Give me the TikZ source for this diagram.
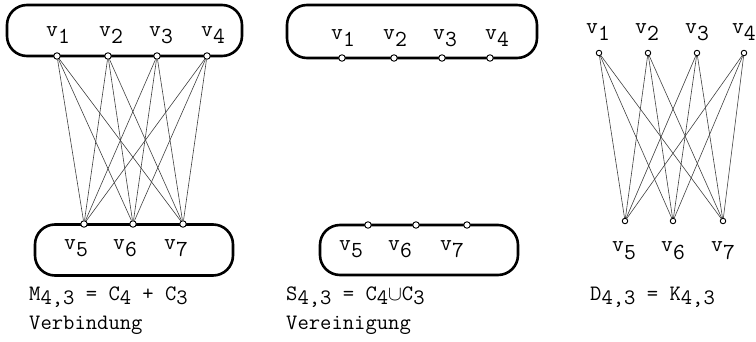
\documentclass[tikz,border=0pt]{standalone}
\newcommand{\lw}[1]{\raisebox{-7pt}{#1}}
\newcommand{\lc}[1]{\raisebox{-4.5pt}{#1}}
\newcommand{\vl}[1]{v\lw{#1}}
\begin{document}
\begin{tikzpicture}[x=1pt,y=-1pt,
  box/.style={draw, line width=2.6pt, rounded corners=20pt, inner sep=0pt},
  vtx/.style={circle, draw, fill=white, inner sep=0pt, minimum size=6.5pt, line width=0.9pt},
  lbl/.style={anchor=base, font=\ttfamily\fontsize{23}{24}\selectfont, inner sep=0pt},
  captxt/.style={anchor=base west, font=\ttfamily\fontsize{22}{24}\selectfont, inner sep=0pt},
  edge/.style={line width=0.6pt, black!75}]
\useasboundingbox (0,0) rectangle (756,342);

% ---------- Panel 1: Verbindung ----------
\node[box, minimum width=235pt, minimum height=51pt] (A1) at (124.5,30.5) {};
\node[box, minimum width=198pt, minimum height=51pt] (A2) at (134,250) {};
\node[vtx] (a1) at (57,56) {};
\node[vtx] (a2) at (108,56) {};
\node[vtx] (a3) at (157,56) {};
\node[vtx] (a4) at (207,56) {};
\node[vtx] (a5) at (84,224) {};
\node[vtx] (a6) at (133,224) {};
\node[vtx] (a7) at (183,224) {};
\node[lbl] (la1) at (58,37) {\vl{1}};
\node[lbl] (la2) at (111,37) {\vl{2}};
\node[lbl] (la3) at (161,37) {\vl{3}};
\node[lbl] (la4) at (213,37) {\vl{4}};
\node[lbl] (la5) at (76,250) {\vl{5}};
\node[lbl] (la6) at (125,250) {\vl{6}};
\node[lbl] (la7) at (176,250) {\vl{7}};
\foreach \t in {1,2,3,4}{\foreach \b in {5,6,7}{\draw[edge] (a\t) -- (a\b);}}
\node[captxt] (ca1) at (29,300) {M\lc{4,3} = C\lc{4} + C\lc{3}};
\node[captxt] (ca2) at (29,329) {Verbindung};

% ---------- Panel 2: Vereinigung ----------
\node[box, minimum width=250pt, minimum height=53pt] (B1) at (412,31.5) {};
\node[box, minimum width=198pt, minimum height=50pt] (B2) at (419,250) {};
\node[vtx] (b1) at (342,58) {};
\node[vtx] (b2) at (394,58) {};
\node[vtx] (b3) at (442,58) {};
\node[vtx] (b4) at (490,58) {};
\node[vtx] (b5) at (368,225) {};
\node[vtx] (b6) at (416,225) {};
\node[vtx] (b7) at (467,225) {};
\node[lbl] (lb1) at (343,40) {\vl{1}};
\node[lbl] (lb2) at (395,40) {\vl{2}};
\node[lbl] (lb3) at (445,40) {\vl{3}};
\node[lbl] (lb4) at (497,40) {\vl{4}};
\node[lbl] (lb5) at (351,251) {\vl{5}};
\node[lbl] (lb6) at (400,251) {\vl{6}};
\node[lbl] (lb7) at (452,251) {\vl{7}};
\node[captxt] (cb1) at (286,300) {S\lc{4,3} = C\lc{4}$\cup$C\lc{3}};
\node[captxt] (cb2) at (286,329) {Vereinigung};

% ---------- Panel 3: K_{4,3} ----------
\node[vtx, minimum size=5.5pt] (c1) at (599,53) {};
\node[vtx, minimum size=5.5pt] (c2) at (648,53) {};
\node[vtx, minimum size=5.5pt] (c3) at (697,53) {};
\node[vtx, minimum size=5.5pt] (c4) at (744,53) {};
\node[vtx, minimum size=5.5pt] (c5) at (625,221) {};
\node[vtx, minimum size=5.5pt] (c6) at (673,221) {};
\node[vtx, minimum size=5.5pt] (c7) at (723,221) {};
\node[lbl] (lc1) at (598,34) {\vl{1}};
\node[lbl] (lc2) at (647,34) {\vl{2}};
\node[lbl] (lc3) at (697,34) {\vl{3}};
\node[lbl, anchor=base east] (lc4) at (756,34) {\vl{4}};
\node[lbl] (lc5) at (624,252) {\vl{5}};
\node[lbl] (lc6) at (673,252) {\vl{6}};
\node[lbl] (lc7) at (723,252) {\vl{7}};
\foreach \t in {1,2,3,4}{\foreach \b in {5,6,7}{\draw[edge] (c\t) -- (c\b);}}
\node[captxt] (cc1) at (590,300) {D\lc{4,3}\ = K\lc{4,3}};
\end{tikzpicture}
\end{document}
